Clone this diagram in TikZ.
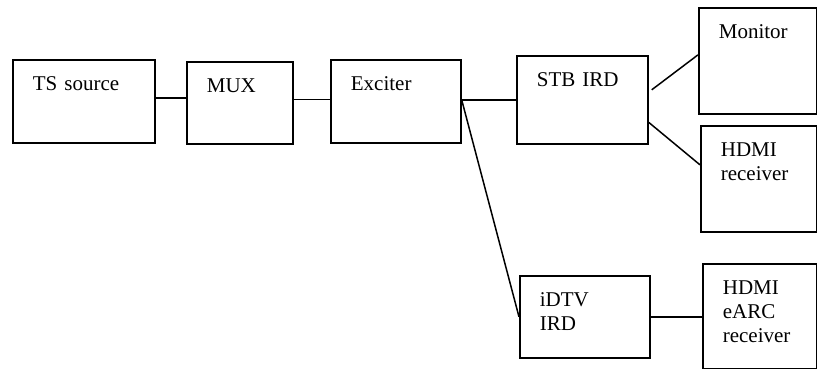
\documentclass[tikz,border=0pt]{standalone}
\usepackage{fontspec}
\setmainfont{Liberation Serif}
\usetikzlibrary{calc}

\begin{document}
\begin{tikzpicture}[
  x=1pt,y=-1pt,
  font=\fontsize{21}{24}\selectfont,
  box/.style={draw,line width=1.7pt,anchor=north west,align=left,
    inner xsep=20pt,inner ysep=0pt,text height=31pt},
  link/.style={line width=1.5pt}]

  \useasboundingbox (0,0) rectangle (817,369);

  \node[box,text width=102pt,text depth=52pt] (ts) at (12,59) {TS source};
  \node[box,text width=66pt,text depth=51pt] (mux) at (186,61) {MUX};
  \node[box,text width=90pt,text depth=52pt] (exc) at (330,59) {Exciter};
  \node[box,text width=91pt,text depth=57pt] (stb) at (516,55) {STB IRD};
  \node[box,text width=78pt,text depth=75pt] (mon) at (698,7) {Monitor};
  \node[box,text width=76pt,text depth=75pt] (hdmi) at (700,125) {HDMI\\receiver};
  \node[box,text width=90pt,text depth=51pt] (idtv) at (519,275) {iDTV\\IRD};
  \node[box,text width=74pt,text depth=74pt] (earc) at (702,263) {HDMI\\eARC\\receiver};

  \draw[link] ([yshift=3.5pt]ts.east) -- ([yshift=3.5pt]ts.east -| mux.west);
  \draw[link] ([yshift=3.5pt]mux.east) -- ([yshift=3.5pt]mux.east -| exc.west);
  \draw[link] ([yshift=1.5pt]exc.east) -- ([yshift=1.5pt]exc.east -| stb.west);
  \draw[link] ([yshift=1.5pt]exc.east) -- (idtv.west);
  \draw[link] ([shift={(3pt,10pt)}]stb.east) -- ([yshift=6pt]mon.west);
  \draw[link] ([yshift=-22.5pt]stb.east) -- ([yshift=14pt]hdmi.west);
  \draw[link] (idtv.east) -- (idtv.east -| earc.west);

\end{tikzpicture}
\end{document}
